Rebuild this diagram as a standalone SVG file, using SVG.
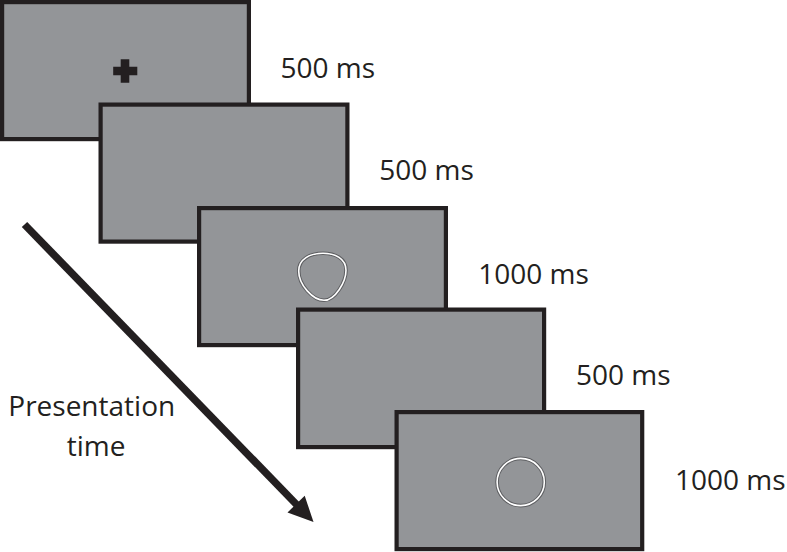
<svg xmlns="http://www.w3.org/2000/svg" width="787" height="552" viewBox="0 0 787 552">
<style>
.scr{fill:#939598;stroke:#231f20;stroke-width:4.2}
.lbl{font-family:"Open Sans","DejaVu Sans",sans-serif;font-size:28px;fill:#231f20}
.halo{fill:none;stroke:#5d5e61;stroke-width:3.6}
.ring{fill:none;stroke:#ffffff;stroke-width:1.6}
</style>
<rect width="787" height="552" fill="#ffffff"/>
<g id="screen1">
<rect class="scr" x="2.1" y="2.1" width="246.8" height="137"/>
<path d="M120.7 59.3h8.6v7.5h8v8.4h-8v7.5h-8.6v-7.5h-7.5v-8.4h7.5z" fill="#231f20"/>
<text class="lbl" x="280.5" y="77.5">500 ms</text>
</g>
<g id="screen2">
<rect class="scr" x="100.6" y="104.6" width="246.8" height="137"/>
<text class="lbl" x="379.3" y="179.5">500 ms</text>
</g>
<g id="screen3">
<rect class="scr" x="199.1" y="208.1" width="246.8" height="137"/>
<path class="halo" d="M323 253.3C335 253.3 346 258.5 346 270.2C346 282 335 300.3 324 300.3C313 300.3 298.7 285 298.7 271C298.7 259 310 253.3 323 253.3Z"/>
<path class="ring" d="M323 253.3C335 253.3 346 258.5 346 270.2C346 282 335 300.3 324 300.3C313 300.3 298.7 285 298.7 271C298.7 259 310 253.3 323 253.3Z"/>
<text class="lbl" x="478.3" y="283.5">1000 ms</text>
</g>
<g id="screen4">
<rect class="scr" x="298.1" y="309.6" width="246" height="137.5"/>
<text class="lbl" x="576" y="385.3">500 ms</text>
</g>
<g id="screen5">
<rect class="scr" x="396.6" y="412.1" width="245.6" height="137"/>
<circle class="halo" cx="520.7" cy="482" r="23.6"/>
<circle class="ring" cx="520.7" cy="482" r="23.6"/>
<text class="lbl" x="675" y="489.5">1000 ms</text>
</g>
<g id="connectors">
<line x1="24.5" y1="224.5" x2="297" y2="505" stroke="#231f20" stroke-width="7.5"/>
<polygon points="313.5,522 304.7,495.7 287.5,512.5" fill="#231f20"/>
</g>
<g id="time-label">
<text class="lbl" x="8.3" y="416">Presentation</text>
<text class="lbl" x="66.7" y="456">time</text>
</g>
</svg>
